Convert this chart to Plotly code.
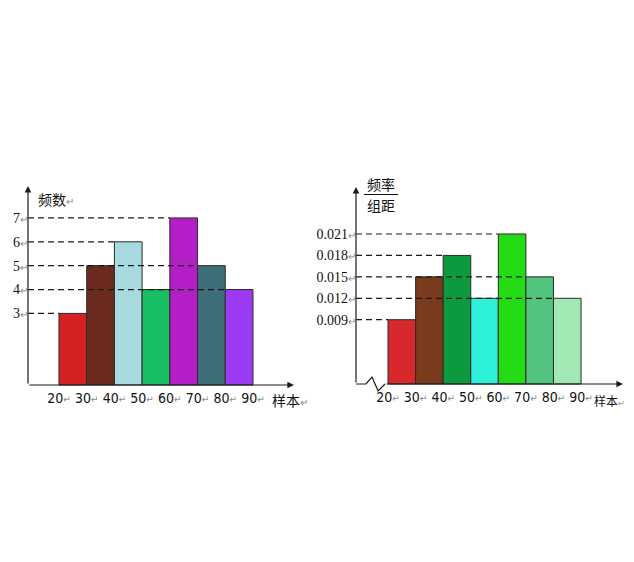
import plotly.graph_objects as go

# histogram data (bins of width 10)
bin_edges = [20, 30, 40, 50, 60, 70, 80, 90]
counts = [3, 5, 6, 4, 7, 5, 4]
density = [0.009, 0.015, 0.018, 0.012, 0.021, 0.015, 0.012]
left_colors = ["#d42124", "#6d2a1e", "#a6dadf", "#18bf62", "#b41ec6", "#3e6e78", "#9c3af4"]
right_colors = ["#d8282b", "#7a3a1c", "#0d9a3e", "#2cf0d8", "#24dc14", "#52c480", "#a2e8b4"]
left_ylabel = "频数"
right_ylabel_top = "频率"
right_ylabel_bottom = "组距"
xlabel = "样本"

# the page body adds an 8px margin, so the figure is made smaller and shifted
PAD = 8
W, H = 634 - 2 * PAD, 562 - 2 * PAD
FONT = "Liberation Serif, Noto Sans CJK SC, serif"
XFONT = "Liberation Sans Narrow, DejaVu Sans Condensed, Arial, sans-serif"
CJK = "Noto Sans CJK SC, sans-serif"
MARK = "<span style='font-size:10px;color:#8a8a8a'>↵</span>"
SMALL_MARK = "<span style='font-size:8px;color:#8a8a8a'>↵</span>"


def px(x):
    return (x - PAD) / W


def py(y):
    return 1 - (y - PAD) / H


mids = [(a + b) / 2 for a, b in zip(bin_edges[:-1], bin_edges[1:])]
width = bin_edges[1] - bin_edges[0]

fig = go.Figure()
fig.add_trace(go.Bar(x=mids, y=counts, width=width, marker_color=left_colors,
                     marker_line=dict(color="#2a2a2a", width=1),
                     xaxis="x", yaxis="y", showlegend=False, hoverinfo="skip"))
fig.add_trace(go.Bar(x=mids, y=density, width=width, marker_color=right_colors,
                     marker_line=dict(color="#2a2a2a", width=1),
                     xaxis="x2", yaxis="y2", showlegend=False, hoverinfo="skip"))

# axis geometry (data units)
L_AX, L_XTIP, L_YTIP = 8.81, 104.8, 8.34
R_AX, R_XTIP, R_YTIP = 8.39, 105.2, 0.02758


def fmt_y(v):
    return f"{v:.3f}" if v < 1 else f"{v:g}"


shapes = []
annotations = []


def dashed_guides(values, x0, xref, yref):
    for v in sorted(set(values)):
        last = max(i for i, c in enumerate(values) if c == v)
        shapes.append(dict(type="line", xref=xref, yref=yref, x0=x0, x1=bin_edges[last],
                           y0=v, y1=v, layer="above",
                           line=dict(color="#1a1a1a", width=1.2, dash="6px,4px")))


dashed_guides(counts, L_AX, "x", "y")
dashed_guides(density, R_AX, "x2", "y2")


def arrow(x0, y0, x1, y1, xref, yref):
    annotations.append(dict(x=x1, y=y1, ax=x0, ay=y0, xref=xref, yref=yref,
                            axref=xref, ayref=yref, text="", showarrow=True,
                            arrowhead=2, arrowsize=1.1, arrowwidth=1.2,
                            arrowcolor="#1a1a1a", standoff=0, startstandoff=0))


arrow(L_AX, 0, L_AX, L_YTIP, "x", "y")
arrow(L_AX, 0, L_XTIP, 0, "x", "y")
arrow(R_AX, 0, R_AX, R_YTIP, "x2", "y2")

# axis break on the right chart
zz_x = [R_AX, 12.0, 14.2, 16.4, 18.9]
zz_y = [0, 0, 0.00098, -0.00098, 0]
fig.add_trace(go.Scatter(x=zz_x, y=zz_y, mode="lines", line=dict(color="#1a1a1a", width=1.2),
                         xaxis="x2", yaxis="y2", showlegend=False, hoverinfo="skip"))
arrow(zz_x[-1], 0, R_XTIP, 0, "x2", "y2")

# axis titles
annotations.append(dict(xref="paper", yref="paper", x=px(36), y=py(199), xanchor="left",
                        yanchor="middle", showarrow=False,
                        text=left_ylabel + MARK, font=dict(family=CJK, size=14, color="#111")))
annotations.append(dict(xref="paper", yref="paper", x=px(381), y=py(184), xanchor="center",
                        yanchor="middle", showarrow=False,
                        text=right_ylabel_top, font=dict(family=CJK, size=14, color="#111")))
annotations.append(dict(xref="paper", yref="paper", x=px(381), y=py(205), xanchor="center",
                        yanchor="middle", showarrow=False,
                        text=right_ylabel_bottom, font=dict(family=CJK, size=14, color="#111")))
shapes.append(dict(type="line", xref="paper", yref="paper", x0=px(364), x1=px(398),
                   y0=py(194.5), y1=py(194.5), line=dict(color="#111", width=1)))
annotations.append(dict(xref="paper", yref="paper", x=px(270), y=py(400), xanchor="left",
                        yanchor="middle", showarrow=False,
                        text=xlabel + MARK, font=dict(family=CJK, size=14, color="#111")))
annotations.append(dict(xref="paper", yref="paper", x=px(626), y=py(400), xanchor="right",
                        yanchor="middle", showarrow=False, borderpad=0,
                        text=xlabel + SMALL_MARK, font=dict(family=CJK, size=12, color="#111")))

xtext = [f"{e}{MARK}" for e in bin_edges]
common_x = dict(tickmode="array", tickvals=bin_edges, ticktext=xtext, showgrid=False,
                zeroline=False, showline=False, ticks="", anchor="free", tickangle=0,
                tickfont=dict(family=XFONT, size=14, color="#111"), ticklabelstandoff=3)
common_y = dict(tickmode="array", showgrid=False, zeroline=False, showline=False,
                ticks="", anchor="free", tickfont=dict(family=FONT, size=14, color="#111"),
                ticklabelstandoff=0)

left_ticks = sorted(set(counts))
right_ticks = sorted(set(density))

fig.update_layout(
    width=W, height=H, margin=dict(l=0, r=0, t=0, b=0),
    paper_bgcolor="white", plot_bgcolor="rgba(0,0,0,0)",
    xaxis=dict(domain=[px(20), px(310)], range=[5.93, 110.58], position=py(385), **common_x),
    yaxis=dict(domain=[py(400), py(175)], range=[-0.629, 8.80], position=px(28),
               tickvals=left_ticks, ticktext=[f"{v}{MARK}" for v in left_ticks], **common_y),
    xaxis2=dict(domain=[px(330), px(626)], range=[-1.04, 106.3], position=py(384), **common_x),
    yaxis2=dict(domain=[py(400), py(175)], range=[-0.00224, 0.02926], position=px(356),
                tickvals=right_ticks, ticktext=[f"{fmt_y(v)}{MARK}" for v in right_ticks],
                **common_y),
    shapes=shapes, annotations=annotations,
)

fig.write_html("out.html")
